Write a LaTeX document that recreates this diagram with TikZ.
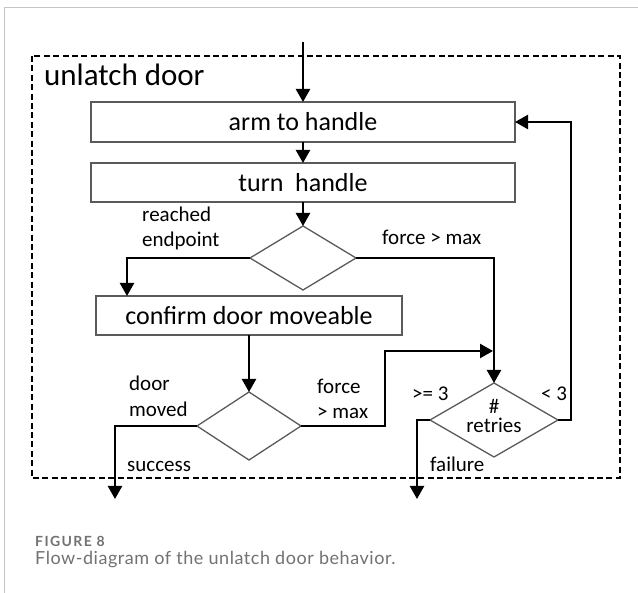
\documentclass[tikz,border=0pt]{standalone}
\usepackage{fontspec}
\setmainfont{Carlito}
\newfontfamily\capfont{Lato}
\newfontfamily\capnofont[LetterSpace=10]{Lato}
\newfontfamily\captextfont[LetterSpace=3]{Lato}
\usetikzlibrary{shapes.geometric,arrows.meta}
\definecolor{framegray}{HTML}{C4C4C4}
\definecolor{capgray}{HTML}{727272}
\definecolor{boxline}{HTML}{5A5A5A}
\begin{document}
\begin{tikzpicture}[x=1pt,y=-1pt,
  flow/.style={line width=2.4pt,-{Triangle[width=14pt,length=13pt]}},
  stepbox/.style={draw=boxline,line width=1.3pt,inner sep=0pt,outer sep=0pt,
    font=\fontsize{26}{30}\selectfont},
  choice/.style={diamond,draw=boxline,line width=1.3pt,inner sep=0pt,outer sep=0pt},
  lbl/.style={font=\fontsize{21}{25}\selectfont,inner sep=0pt,anchor=base west},
  frame/.style={draw=black,line width=2.3pt,dash pattern=on 6pt off 3.4pt},
]
\useasboundingbox (0,0) rectangle (638,593);
\fill[white] (0,0) rectangle (638,593);
% panel outline
\draw[framegray,line width=1pt] (638,8) -- (4,8) -- (4,593);

% behaviour boundary
\draw[frame] (32,56) rectangle (620,478);
\node[font=\fontsize{31}{36}\selectfont,inner sep=0pt,anchor=base west] (title) at (44,86) {unlatch door};

% steps
\node[stepbox,minimum width=424pt,minimum height=40pt] (arm) at (303,122) {arm to handle};
\node[stepbox,minimum width=424pt,minimum height=39pt] (turn) at (303,182.5) {turn\ \ handle};
\node[stepbox,minimum width=306pt,minimum height=39pt] (confirm) at (249,315.5) {confirm door moveable};

% decisions
\node[choice,minimum width=106pt,minimum height=64pt] (d1) at (303,258) {};
\node[choice,minimum width=104pt,minimum height=68pt] (d2) at (249,426) {};
\node[choice,minimum width=128pt,minimum height=74pt] (d3) at (494,420) {};

% entry and exits
\coordinate (entry) at (303,42);
\coordinate (success) at (115,499);
\coordinate (failure) at (417,499);
\coordinate (merge) at (493,351);

% connectors
\draw[flow] (entry) -- (arm.north);
\draw[flow] (arm.south) -- (turn.north);
\draw[flow] (turn.south) -- (d1.north);
\draw[flow] (d1.west) -| ([xshift=31pt]confirm.north west);
\draw[flow] (d1.east) -| (d3.north);
\draw[flow] (confirm.south) -- (d2.north);
\draw[flow] (d2.west) -| (success);
\draw[flow] (d2.east) -- ++(84,0) |- (merge);
\draw[flow] (d3.west) -| (failure);
\draw[flow] (d3.east) -- ++(13,0) |- (arm.east);

% branch labels
\node[lbl] (reachA) at (142,222) {reached};
\node[lbl] (reachB) at (142,247) {endpoint};
\node[lbl] (force1) at (382,245) {force > max};
\node[lbl] (movedA) at (129,391) {door};
\node[lbl] (movedB) at (129,417) {moved};
\node[lbl] (force2A) at (317,394) {force};
\node[lbl] (force2B) at (317,419) {> max};
\node[lbl] (succ) at (127,472) {success};
\node[lbl] (geq) at (412,401) {>= 3};
\node[lbl] (lt) at (541,401) {< 3};
\node[lbl,anchor=base] (hash) at (494,414) {\#};
\node[lbl,anchor=base] (retries) at (494,433) {retries};
\node[lbl] (fail) at (430,472) {failure};

% caption
\node[inner sep=0pt,anchor=base west,text=capgray,font=\capnofont\bfseries\fontsize{14}{16}\selectfont] (figno) at (35,547) {FIGURE 8};
\node[inner sep=0pt,anchor=base west,text=capgray,font=\captextfont\fontsize{18}{21}\selectfont] (figcap) at (35,565) {Flow-diagram of the unlatch door behavior.};
\end{tikzpicture}
\end{document}
